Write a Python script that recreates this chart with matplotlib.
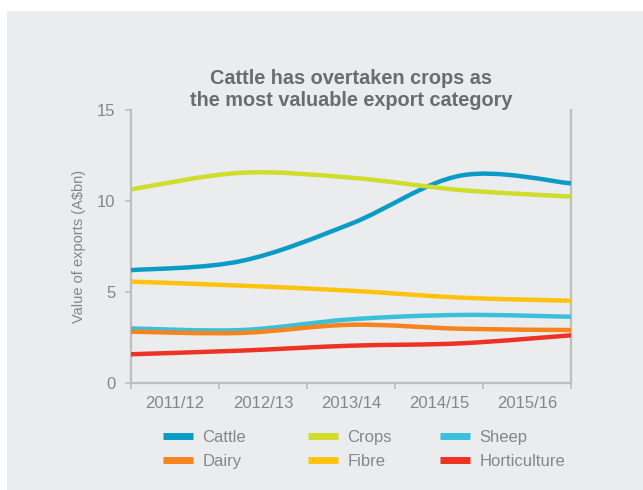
import matplotlib
matplotlib.use("Agg")
import matplotlib.pyplot as plt
import matplotlib.patches as mpatches
from matplotlib.path import Path
from matplotlib.lines import Line2D
import numpy as np

years = ["2011/12", "2012/13", "2013/14", "2014/15", "2015/16"]

# Export values, A$bn
cattle = [6.2, 6.7, 8.75, 11.4, 10.97]
crops = [10.64, 11.55, 11.28, 10.6, 10.24]
sheep = [3.0, 2.91, 3.5, 3.74, 3.64]
dairy = [2.82, 2.75, 3.2, 2.98, 2.91]
fibre = [5.57, 5.35, 5.07, 4.69, 4.52]
horticulture = [1.58, 1.78, 2.05, 2.18, 2.62]

series = [
    ("Cattle", cattle, "#0a9bc6"),
    ("Crops", crops, "#cfdd2b"),
    ("Sheep", sheep, "#3ac1d9"),
    ("Dairy", dairy, "#f5841f"),
    ("Fibre", fibre, "#fec20f"),
    ("Horticulture", horticulture, "#ee3224"),
]

BG = "#ebecee"
AXIS = "#bdbec0"
TEXT = "#858688"
TITLE = "#6b6c6e"
FONT = "Liberation Sans"


def smooth_path(xs, ys):
    """Catmull-Rom spline through the points, as cubic Bezier segments."""
    pts = np.column_stack([xs, ys]).astype(float)
    n = len(pts)
    verts = [pts[0]]
    codes = [Path.MOVETO]
    for i in range(n - 1):
        p0 = pts[max(i - 1, 0)]
        p1 = pts[i]
        p2 = pts[i + 1]
        p3 = pts[min(i + 2, n - 1)]
        c1 = p1 + (p2 - p0) / 6.0
        c2 = p2 - (p3 - p1) / 6.0
        verts += [c1, c2, p2]
        codes += [Path.CURVE4] * 3
    return Path(verts, codes)


fig = plt.figure(figsize=(6.43, 4.90), dpi=100)
fig.patch.set_facecolor("white")
panel = mpatches.Rectangle((7 / 643, 0), 1, 1 - 11 / 490,
                           transform=fig.transFigure,
                           facecolor=BG, edgecolor="none", zorder=-10)
fig.add_artist(panel)

ax = fig.add_axes([131 / 643, 1 - 383 / 490, 440 / 643, 273 / 490])
ax.set_facecolor(BG)

x = np.arange(len(years))
for name, vals, color in series:
    path = smooth_path(x, vals)
    ax.add_patch(mpatches.PathPatch(path, fill=False, edgecolor=color,
                                    lw=3.2, capstyle="butt", zorder=3))

ax.set_xlim(0, len(years) - 1)
ax.set_ylim(0, 15)

# Category ticks sit between tick marks
edges = np.linspace(0, len(years) - 1, len(years) + 1)
ax.set_xticks(edges)
ax.set_xticklabels([])
ax.set_xticks((edges[:-1] + edges[1:]) / 2, minor=True)
ax.set_xticklabels(years, minor=True, fontsize=12, color=TEXT, family=FONT)
ax.tick_params(axis="x", which="major", length=4, width=1.2, color=AXIS, direction="out")
ax.tick_params(axis="x", which="minor", length=0, pad=9)

ax.set_yticks([0, 5, 10, 15])
ax.set_yticklabels(["0", "5", "10", "15"], fontsize=12, color=TEXT, family=FONT)
ax.tick_params(axis="y", length=4, width=1.2, color=AXIS, pad=7)

for side in ["left", "bottom", "right"]:
    ax.spines[side].set_color(AXIS)
    ax.spines[side].set_linewidth(1.6)
ax.spines["top"].set_visible(False)

ax.set_ylabel("Value of exports (A$bn)", fontsize=10.5, color=TEXT,
              family=FONT, labelpad=8)

ax.set_title("Cattle has overtaken crops as\nthe most valuable export category",
             fontsize=14.3, color=TITLE, family=FONT, fontweight="bold",
             linespacing=1.2, pad=1)

# Legend: three columns placed individually
col_x = [163 / 643, 308 / 643, 440 / 643]
for c in range(3):
    handles = []
    for name, vals, color in (series[c], series[c + 3]):
        handles.append(Line2D([], [], color=color, lw=5, solid_capstyle="butt", label=name))
    leg = fig.legend(handles=handles, loc="upper left",
                     bbox_to_anchor=(col_x[c], 1 - 430 / 490),
                     frameon=False, handlelength=1.8, handletextpad=0.55,
                     labelspacing=0.55, borderaxespad=0, borderpad=0,
                     prop={"family": FONT, "size": 12})
    for t in leg.get_texts():
        t.set_color(TEXT)

fig.savefig("out.png", dpi=100, facecolor=fig.get_facecolor())
